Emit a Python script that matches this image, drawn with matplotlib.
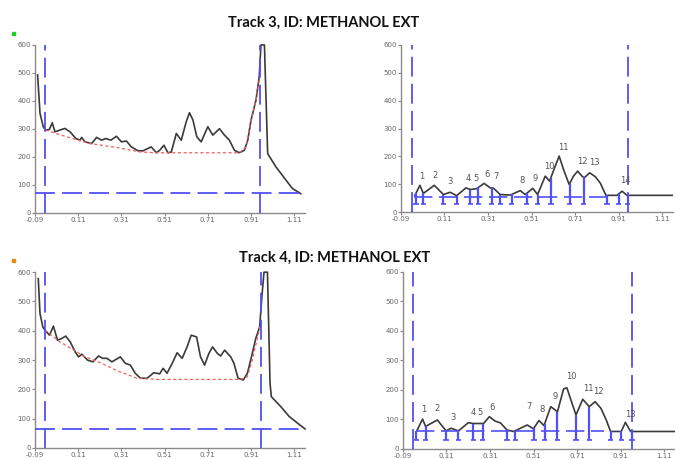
import matplotlib
matplotlib.use("Agg")
import matplotlib.pyplot as plt
import numpy as np
from matplotlib.patches import Rectangle

# ---------------- data ----------------
x_ticks = [-0.09, 0.11, 0.31, 0.51, 0.71, 0.91, 1.11]
x_tick_labels = ["-0.09", "0.11", "0.31", "0.51", "0.71", "0.91", "1.11"]
y_ticks = [0, 100, 200, 300, 400, 500, 600]

# Track 3 raw densitogram
t3_raw_x = [-0.078, -0.067, -0.052, -0.041, -0.024, -0.010, 0.002, 0.025, 0.048, 0.072,
            0.099, 0.118, 0.126, 0.141, 0.172, 0.195, 0.218, 0.238, 0.261, 0.287,
            0.310, 0.333, 0.356, 0.387, 0.410, 0.448, 0.472, 0.487, 0.507, 0.525,
            0.541, 0.564, 0.587, 0.610, 0.625, 0.641, 0.659, 0.679, 0.710, 0.733,
            0.764, 0.787, 0.810, 0.833, 0.856, 0.879, 0.895, 0.910, 0.933, 0.948,
            0.956, 0.972, 0.987, 1.025, 1.072, 1.102, 1.140]
t3_raw_y = [493, 356, 308, 296, 298, 322, 290, 296, 302, 290,
            266, 260, 270, 254, 248, 270, 260, 266, 260, 274,
            254, 257, 236, 222, 222, 236, 215, 224, 242, 215,
            218, 284, 260, 326, 358, 332, 272, 254, 308, 278,
            301, 278, 260, 224, 215, 224, 260, 332, 403, 487,
            600, 600, 212, 165, 117, 87, 69]
t3_base_x = [-0.041, 0.056, 0.164, 0.287, 0.395, 0.472, 0.856, 0.887, 0.910, 0.933, 0.948]
t3_base_y = [296, 272, 248, 234, 218, 215, 215, 236, 332, 403, 475]
t3_start, t3_end, t3_thresh = -0.045, 0.950, 70

# Track 3 corrected peaks
t3_x = [-0.026, -0.003, 0.013, 0.063, 0.105, 0.136, 0.166, 0.209, 0.228, 0.258,
        0.292, 0.320, 0.335, 0.366, 0.412, 0.458, 0.481, 0.516, 0.538, 0.573,
        0.593, 0.619, 0.637, 0.657, 0.683, 0.703, 0.722, 0.742, 0.752, 0.777,
        0.803, 0.826, 0.852, 0.903, 0.926, 0.949, 1.164]
t3_y = [60, 96, 67, 96, 63, 71, 59, 87, 81, 84,
        103, 87, 86, 63, 61, 77, 63, 85, 63, 129,
        111, 165, 201, 153, 99, 129, 147, 129, 123, 141,
        127, 104, 60, 60, 75, 60, 60]
t3_bounds = [-0.021, 0.013, 0.105, 0.166, 0.228, 0.266, 0.327, 0.366, 0.419, 0.488,
             0.538, 0.599, 0.685, 0.749, 0.857, 0.910, 0.952]
t3_labels = ["1", "2", "3", "4", "5", "6", "7", "8", "9", "10", "11", "12", "13", "14"]
t3_label_x = [0.005, 0.067, 0.136, 0.217, 0.255, 0.304, 0.347, 0.465, 0.527, 0.593,
              0.654, 0.745, 0.798, 0.941]
t3_label_y = [110, 114, 94, 104, 104, 118, 110, 98, 104, 146, 215, 166, 161, 97]
t3_rstart, t3_rend, t3_rthresh = -0.041, 0.955, 55
t3_hstart, t3_hend = -0.030, 0.857

# Track 4 raw densitogram
t4_raw_x = [-0.075, -0.067, -0.054, -0.044, -0.023, -0.005, 0.014, 0.034, 0.052, 0.073,
            0.096, 0.111, 0.127, 0.153, 0.178, 0.204, 0.223, 0.243, 0.266, 0.305,
            0.328, 0.351, 0.374, 0.398, 0.429, 0.460, 0.487, 0.503, 0.521, 0.545,
            0.568, 0.591, 0.614, 0.633, 0.658, 0.676, 0.695, 0.715, 0.732, 0.754,
            0.769, 0.788, 0.816, 0.831, 0.850, 0.874, 0.893, 0.912, 0.932, 0.950,
            0.960, 0.970, 0.986, 0.998, 1.004, 1.048, 1.086, 1.125, 1.160]
t4_raw_y = [578, 459, 413, 402, 385, 416, 368, 374, 382, 362,
            328, 311, 320, 300, 294, 314, 306, 306, 294, 311,
            289, 283, 255, 238, 238, 257, 253, 272, 255, 289,
            325, 306, 345, 385, 379, 311, 283, 323, 345, 323,
            314, 334, 311, 289, 238, 232, 255, 311, 374, 413,
            515, 600, 600, 221, 175, 141, 108, 85, 65]
t4_base_x = [-0.044, 0.026, 0.134, 0.212, 0.289, 0.382, 0.475, 0.862, 0.893, 0.916, 0.939, 0.955]
t4_base_y = [402, 362, 314, 291, 264, 238, 234, 234, 243, 300, 374, 425]
t4_start, t4_end, t4_thresh = -0.044, 0.958, 66

# Track 4 corrected peaks
t4_x = [-0.028, 0.000, 0.014, 0.068, 0.108, 0.131, 0.165, 0.211, 0.231, 0.280,
        0.307, 0.334, 0.358, 0.388, 0.419, 0.481, 0.509, 0.535, 0.558, 0.589,
        0.620, 0.648, 0.663, 0.697, 0.705, 0.736, 0.766, 0.793, 0.820, 0.844,
        0.864, 0.913, 0.932, 0.956, 1.168]
t4_y = [59, 101, 76, 98, 61, 70, 61, 89, 86, 86,
        109, 94, 88, 64, 59, 81, 68, 96, 79, 143,
        126, 203, 207, 132, 115, 168, 143, 160, 137, 98,
        59, 59, 90, 59, 59]
t4_bounds = [-0.028, 0.015, 0.108, 0.165, 0.234, 0.277, 0.388, 0.427, 0.512, 0.561,
             0.620, 0.705, 0.766, 0.864, 0.913, 0.962]
t4_labels = ["1", "2", "3", "4", "5", "6", "7", "8", "9", "10", "11", "12", "13"]
t4_label_x = [0.007, 0.067, 0.141, 0.231, 0.262, 0.319, 0.489, 0.547, 0.609, 0.682,
              0.762, 0.808, 0.956]
t4_label_y = [118, 121, 90, 109, 109, 126, 130, 117, 163, 230, 188, 179, 101]
t4_rstart, t4_rend, t4_rthresh = -0.044, 0.962, 59
t4_hstart, t4_hend = -0.030, 0.836

titles = ["Track 3, ID: METHANOL EXT", "Track 4, ID: METHANOL EXT"]

# ---------------- style ----------------
BLUE = "#5050f5"
BLACK = "#3a3a3a"
RED = "#f06060"
GRAY = "#8a8a8a"
DASH = (0, (11, 4))

fig = plt.figure(figsize=(6.75, 4.59), dpi=100)
fig.patch.set_facecolor("white")


def style_axes(ax):
    ax.set_xlim(-0.09, 1.16)
    ax.set_ylim(0, 600)
    ax.set_xticks(x_ticks)
    ax.set_xticklabels(x_tick_labels)
    ax.set_yticks(y_ticks)
    for s in ("top", "right"):
        ax.spines[s].set_visible(False)
    for s in ("left", "bottom"):
        ax.spines[s].set_color(GRAY)
        ax.spines[s].set_linewidth(1.0)
    ax.tick_params(axis="both", colors=GRAY, labelsize=5, length=2, width=0.8, pad=1,
                   labelcolor="#666666")
    ax.set_facecolor("white")


def raw_panel(rect, rx, ry, bx, by, start, end, thresh):
    ax = fig.add_axes(rect)
    style_axes(ax)
    ax.plot(rx, ry, color=BLACK, lw=1.2, zorder=3, clip_on=False)
    ax.plot(bx, by, color=RED, lw=0.9, ls=(0, (2.5, 2)), zorder=4)
    ax.axvline(start, color=BLUE, lw=1.3, ls=DASH, zorder=5)
    ax.axvline(end, color=BLUE, lw=1.3, ls=DASH, zorder=5)
    ax.axhline(thresh, color=BLUE, lw=1.3, ls=DASH, zorder=5)
    return ax


def peak_panel(rect, px, py, bounds, labels, lx, ly, start, end, thresh, hstart, hend):
    ax = fig.add_axes(rect)
    style_axes(ax)
    ax.plot(px, py, color=BLACK, lw=1.2, zorder=3)
    ax.axvline(start, color=BLUE, lw=1.3, ls=DASH, zorder=5)
    ax.axvline(end, color=BLUE, lw=1.3, ls=DASH, zorder=5)
    ax.plot([hstart, hend], [thresh, thresh], color=BLUE, lw=1.2, ls=DASH, zorder=4)
    tops = np.interp(bounds, px, py)
    ax.vlines(bounds, 30, tops, color=BLUE, lw=1.6, zorder=4)
    ax.hlines([30] * len(bounds), np.array(bounds) - 0.012, np.array(bounds) + 0.012,
              color=BLUE, lw=1.2, zorder=4)
    for t, x, y in zip(labels, lx, ly):
        ax.text(x, y, t, fontsize=6, color="#555555", ha="center", va="bottom", zorder=6)
    return ax


raw_panel([0.0519, 0.536, 0.40, 0.366], t3_raw_x, t3_raw_y, t3_base_x, t3_base_y,
          t3_start, t3_end, t3_thresh)
peak_panel([0.594, 0.538, 0.403, 0.364], t3_x, t3_y, t3_bounds, t3_labels,
           t3_label_x, t3_label_y, t3_rstart, t3_rend, t3_rthresh, t3_hstart, t3_hend)
raw_panel([0.0519, 0.024, 0.40, 0.383], t4_raw_x, t4_raw_y, t4_base_x, t4_base_y,
          t4_start, t4_end, t4_thresh)
peak_panel([0.597, 0.022, 0.403, 0.386], t4_x, t4_y, t4_bounds, t4_labels,
           t4_label_x, t4_label_y, t4_rstart, t4_rend, t4_rthresh, t4_hstart, t4_hend)

fig.text(0.48, 0.950, titles[0], ha="center", va="center", fontsize=10.5,
         fontweight="bold", family=["Lato", "DejaVu Sans"], color="#111111")
fig.text(0.496, 0.438, titles[1], ha="center", va="center", fontsize=10.5,
         fontweight="bold", family=["Lato", "DejaVu Sans"], color="#111111")

# small colored markers at top-left corners
fig.patches.append(Rectangle((12 / 675, 1 - 35 / 459), 3 / 675, 3 / 459,
                             transform=fig.transFigure, color="#22cc22"))
fig.patches.append(Rectangle((12 / 675, 1 - 262 / 459), 3 / 675, 3 / 459,
                             transform=fig.transFigure, color="#e08a10"))

fig.savefig("out.png", dpi=100, facecolor="white")
